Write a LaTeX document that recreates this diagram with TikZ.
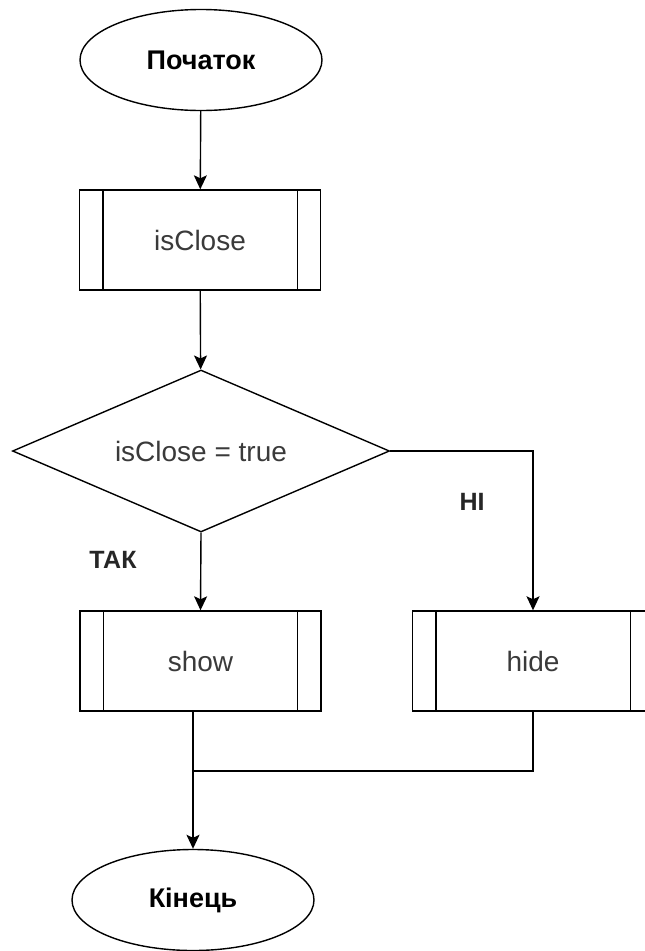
\documentclass[tikz,border=0pt]{standalone}
\usepackage{fontspec}
\setmainfont{Liberation Sans}
\usetikzlibrary{shapes.geometric,arrows.meta}
\definecolor{txtgray}{HTML}{3A3A3A}
\tikzset{
  base/.style={draw=black, line width=1.4pt, inner sep=0pt},
  terminal/.style={base, ellipse, minimum width=242pt, minimum height=101pt, font=\fontsize{27}{30}\selectfont\bfseries},
  procbox/.style={base, rectangle, minimum width=241pt, minimum height=100pt, text=txtgray, font=\fontsize{28}{32}\selectfont},
  decision/.style={base, diamond, aspect=2.33, minimum width=377pt, minimum height=162pt, text=txtgray, font=\fontsize{28}{32}\selectfont},
  lbl/.style={font=\fontsize{25}{28}\selectfont\bfseries, text=black!85},
  conn/.style={line width=1.4pt, draw=black},
  arrow/.style={conn, -{Stealth[length=14pt,width=13pt,inset=3pt]}},
}
\newcommand{\sidebars}[1]{%
  \draw[conn] ([xshift=24pt]#1.north west) -- ([xshift=24pt]#1.south west);
  \draw[conn] ([xshift=-24pt]#1.north east) -- ([xshift=-24pt]#1.south east);}
\begin{document}
\begin{tikzpicture}[x=1pt,y=-1pt]
\useasboundingbox (0,0) rectangle (645,951);
\clip (0,0) rectangle (645,951);
\node[terminal] (start) at (201,60) {Початок};
\node[procbox] (isc) at (200,240) {isClose};
\sidebars{isc}
\node[decision] (dec) at (201,451) {isClose = true};
\node[procbox] (show) at (200.5,661) {show};
\sidebars{show}
\node[procbox] (hide) at (533,661) {hide};
\sidebars{hide}
\node[terminal] (end) at (193,900) {Кінець};
\node[lbl] (no) at (472,502) {НІ};
\node[lbl] (yes) at (113,560) {ТАК};
\coordinate (merge) at (193,771);
\draw[arrow] (start) -- (isc);
\draw[arrow] (isc) -- (dec);
\draw[arrow] (dec.south) -- (show.north);
\draw[arrow] (dec.east) -| (hide.north);
\draw[conn] (show.south -| merge) -- (merge);
\draw[conn] (hide.south) |- (merge);
\draw[arrow] (merge) -- (end.north);
\end{tikzpicture}
\end{document}
